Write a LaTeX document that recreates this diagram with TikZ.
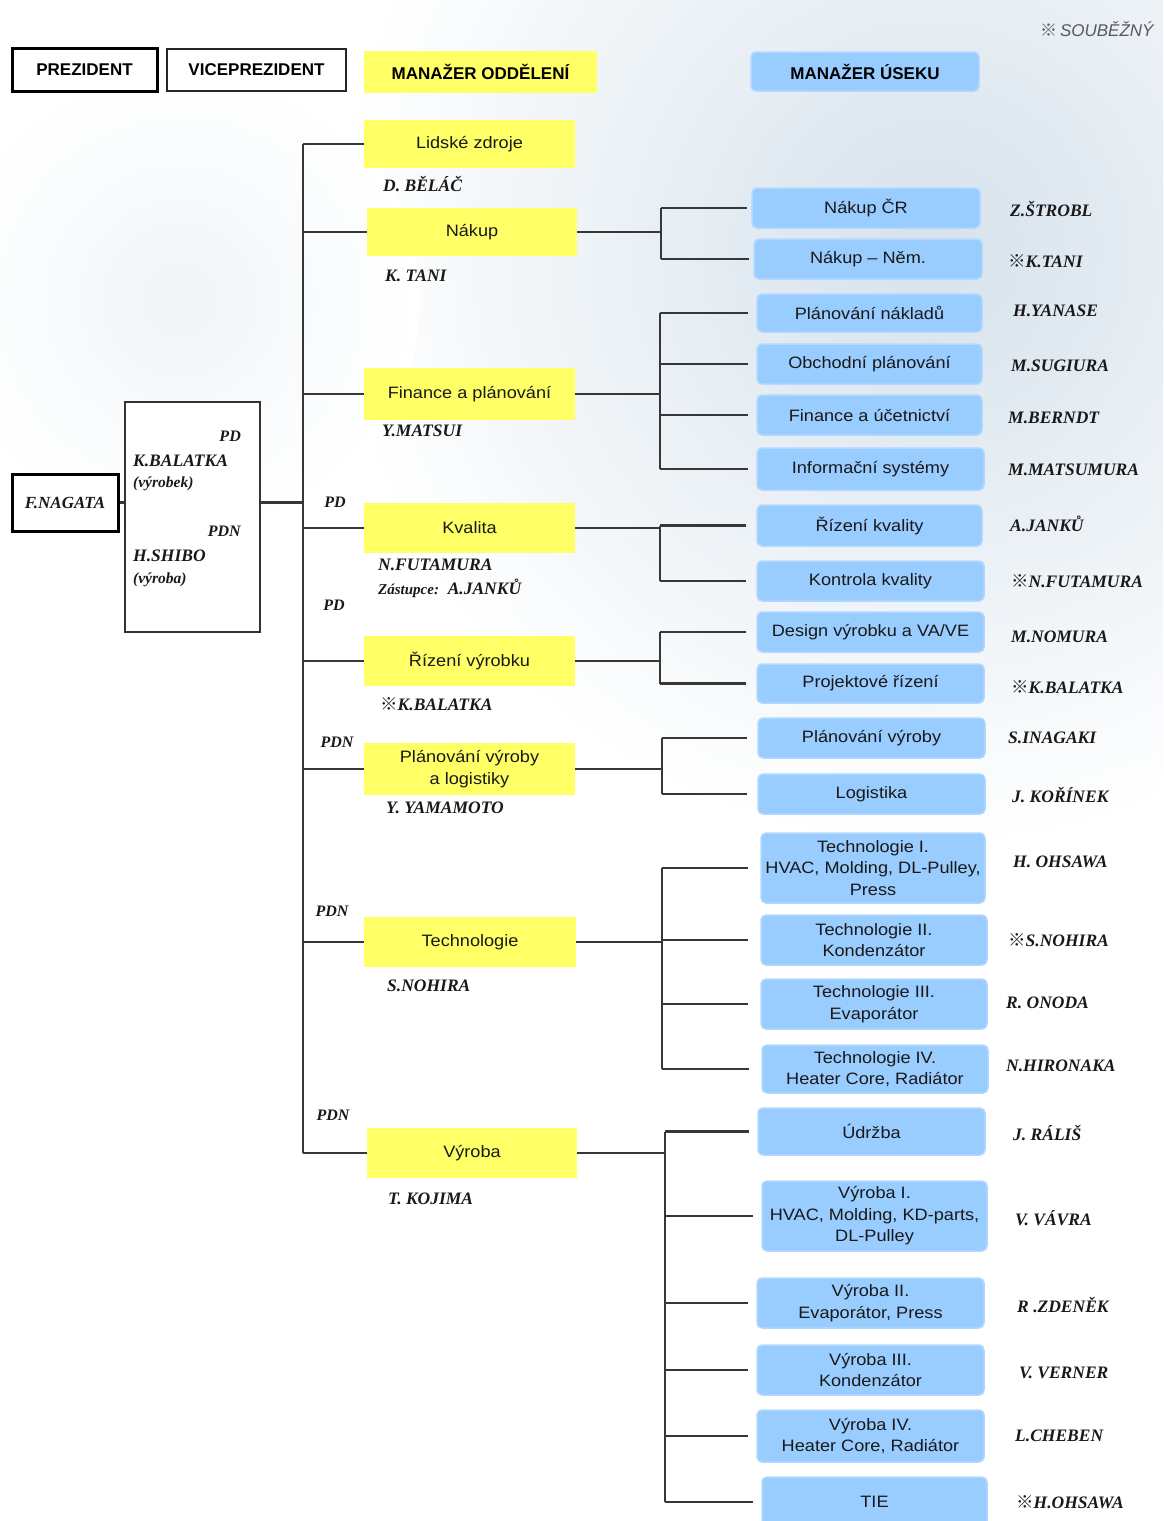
\documentclass[tikz,border=0pt]{standalone}
\usepackage{fontspec}
\setmainfont{Liberation Sans}
\newfontfamily\boxfont[FakeStretch=1.1]{Liberation Sans}
\newfontfamily\nmfont{Liberation Serif}
\newfontfamily\cjkfont{Noto Sans CJK JP}
\newcommand\refm{{\cjkfont ※}}
\definecolor{ylw}{RGB}{255,255,102}
\definecolor{blu}{RGB}{153,204,255}
\definecolor{bluedge}{RGB}{178,216,255}
\definecolor{lin}{RGB}{55,55,55}
\definecolor{txt}{RGB}{25,25,25}
\definecolor{bgc}{RGB}{214,226,236}
\begin{document}
\begin{tikzpicture}[x=1pt,y=-1pt,
  wh/.style 2 args={minimum width=#1pt, minimum height=#2pt},
  ybox/.style={fill=ylw, draw=none, inner sep=0pt, align=center, text=txt,
    font=\boxfont\fontsize{16.5}{21.5}\selectfont},
  bbox/.style={fill=blu, draw=bluedge, line width=1.5pt, rounded corners=5pt, inner sep=0pt,
    align=center, text=txt, font=\boxfont\fontsize{16.5}{21.5}\selectfont},
  conn/.style={draw=lin, line width=2.6pt},
  nm/.style={anchor=west, inner sep=0pt, text=txt,
    font=\nmfont\bfseries\itshape\fontsize{17.5}{20}\selectfont},
  small/.style={font=\nmfont\bfseries\itshape\fontsize{15.5}{17}\selectfont},
  pd/.style={inner sep=0pt, text=txt, font=\nmfont\bfseries\itshape\fontsize{16}{18}\selectfont},
  hdr/.style={inner sep=0pt, text=black, font=\bfseries\fontsize{17}{20}\selectfont}
]
\useasboundingbox (0,0) rectangle (1163,1521);
\clip (0,0) rectangle (1163,1521);
\fill[white] (0,0) rectangle (1163,1521);
\shade[inner color=bgc, outer color=white] (930,250) circle[radius=600pt];
\shade[inner color=bgc!35!white, outer color=white] (180,300) circle[radius=240pt];

% header
\node[draw=black, line width=3pt, fill=white, wh={145}{43}, hdr] (prez) at (84.5,69.5) {PREZIDENT};
\node[draw=black!85, line width=2pt, fill=white, wh={179}{42}, hdr] (vp) at (256.5,70) {VICEPREZIDENT};
\node[ybox, wh={233}{42}, hdr] (mgr) at (480.5,72) {MANAŽER ODDĚLENÍ};
\node[bbox, wh={228}{39}, hdr] (useku) at (865,71.5) {MANAŽER ÚSEKU};
\node[anchor=west, inner sep=0pt, text=black!65, font=\itshape\fontsize{17}{20}\selectfont] (soub) at (1040,29) {\refm\,SOUBĚŽNÝ};

% left
\node[draw=black, line width=3pt, fill=white, wh={106}{57}, pd, font=\nmfont\bfseries\itshape\fontsize{17}{20}\selectfont] (nagata) at (65,502.5) {F.NAGATA};
\node[draw=black!80, line width=2pt, fill=white, wh={135}{230}] (big) at (192.5,517) {};
\node[pd, anchor=east] (pdA) at (241,436) {PD};
\node[nm] (kbal) at (133,461) {K.BALATKA};
\node[nm, small] (kbalr) at (133,484) {(výrobek)};
\node[pd, anchor=east] (pdB) at (241,531) {PDN};
\node[nm] (shibo) at (133,556) {H.SHIBO};
\node[nm, small] (shibor) at (133,580) {(výroba)};

% trunk
\coordinate (trunk) at (303,147);

% department boxes
\node[ybox, wh={211}{48}] (hr) at (469.5,144) {Lidské zdroje};
\node[ybox, wh={210}{48}] (nakup) at (472,232) {Nákup};
\node[ybox, wh={211}{52}] (fin) at (469.5,394) {Finance a plánování};
\node[ybox, wh={211}{50}] (kval) at (469.5,528) {Kvalita};
\node[ybox, wh={211}{50}] (rizv) at (469.5,661) {Řízení výrobku};
\node[ybox, wh={211}{52}] (planv) at (469.5,769) {Plánování výroby\\a logistiky};
\node[ybox, wh={212}{50}] (tech) at (470,942) {Technologie};
\node[ybox, wh={210}{50}] (vyr) at (472,1153) {Výroba};

% department names
\node[nm] (nhr) at (383,184) {D. BĚLÁČ};
\node[nm] (nnak) at (385,276) {K. TANI};
\node[nm] (nfin) at (382,431) {Y.MATSUI};
\node[nm] (nkv) at (378,565) {N.FUTAMURA};
\node[nm] (nkv2) at (378,588) {{\fontsize{15}{17}\selectfont Zástupce:}\ \ A.JANKŮ};
\node[nm] (nriz) at (380,704) {\refm K.BALATKA};
\node[nm] (npl) at (386,808) {Y. YAMAMOTO};
\node[nm] (ntech) at (387,986) {S.NOHIRA};
\node[nm] (nvyr) at (388,1199) {T. KOJIMA};

\node[pd] (pd1) at (335,502) {PD};
\node[pd] (pd2) at (334,605) {PD};
\node[pd] (pd3) at (337,742) {PDN};
\node[pd] (pd4) at (332,911) {PDN};
\node[pd] (pd5) at (333,1115) {PDN};

% section boxes
\node[bbox, wh={228}{40}] (ncr) at (866,208) {Nákup ČR};
\node[bbox, wh={228}{40}] (nnem) at (868,259) {Nákup – Něm.};
\node[bbox, wh={225}{38}] (pn) at (869.5,313) {Plánování nákladů};
\node[bbox, wh={225}{40}] (op) at (869.5,364) {Obchodní plánování};
\node[bbox, wh={225}{40}] (fu) at (869.5,415) {Finance a účetnictví};
\node[bbox, wh={227}{42}] (is) at (870.5,469) {Informační systémy};
\node[bbox, wh={225}{41}] (rk) at (869.5,525.5) {Řízení kvality};
\node[bbox, wh={227}{40}] (kk) at (870.5,581) {Kontrola kvality};
\node[bbox, wh={227}{40}] (dv) at (870.5,632) {Design výrobku a VA/VE};
\node[bbox, wh={227}{39}] (pr) at (870.5,683.5) {Projektové řízení};
\node[bbox, wh={227}{40}] (pv) at (871.5,738) {Plánování výroby};
\node[bbox, wh={227}{40}] (lg) at (871.5,794) {Logistika};
\node[bbox, wh={224}{70}] (t1) at (873,868) {Technologie I.\\HVAC, Molding, DL-Pulley,\\Press};
\node[bbox, wh={226}{50}] (t2) at (874,940) {Technologie II.\\Kondenzátor};
\node[bbox, wh={226}{50}] (t3) at (874,1004) {Technologie III.\\Evaporátor};
\node[bbox, wh={226}{48}] (t4) at (875,1069) {Technologie IV.\\Heater Core, Radiátor};
\node[bbox, wh={227}{47}] (ud) at (871.5,1131.5) {Údržba};
\node[bbox, wh={225}{70}] (v1) at (874.5,1216) {Výroba I.\\HVAC, Molding, KD-parts,\\DL-Pulley};
\node[bbox, wh={227}{50}] (v2) at (870.5,1303) {Výroba II.\\Evaporátor, Press};
\node[bbox, wh={227}{50}] (v3) at (870.5,1370) {Výroba III.\\Kondenzátor};
\node[bbox, wh={227}{52}] (v4) at (870.5,1436) {Výroba IV.\\Heater Core, Radiátor};
\node[bbox, wh={225}{50}] (tie) at (874.5,1502) {TIE};

% section names
\node[nm] (m1) at (1010,209) {Z.ŠTROBL};
\node[nm] (m2) at (1008,261) {\refm K.TANI};
\node[nm] (m3) at (1013,311) {H.YANASE};
\node[nm] (m4) at (1011,366) {M.SUGIURA};
\node[nm] (m5) at (1008,418) {M.BERNDT};
\node[nm] (m6) at (1008,470) {M.MATSUMURA};
\node[nm] (m7) at (1010,524) {A.JANKŮ};
\node[nm] (m8) at (1011,581) {\refm N.FUTAMURA};
\node[nm] (m9) at (1011,637) {M.NOMURA};
\node[nm] (m10) at (1011,687) {\refm K.BALATKA};
\node[nm] (m11) at (1008,738) {S.INAGAKI};
\node[nm] (m12) at (1012,795) {J. KOŘÍNEK};
\node[nm] (m13) at (1013,862) {H. OHSAWA};
\node[nm] (m14) at (1008,940) {\refm S.NOHIRA};
\node[nm] (m15) at (1006,1003) {R. ONODA};
\node[nm] (m16) at (1006,1066) {N.HIRONAKA};
\node[nm] (m17) at (1013,1133) {J. RÁLIŠ};
\node[nm] (m18) at (1015,1218) {V. VÁVRA};
\node[nm] (m19) at (1017,1305) {R .ZDENĚK};
\node[nm] (m20) at (1019,1373) {V. VERNER};
\node[nm] (m21) at (1015,1436) {L.CHEBEN};
\node[nm] (m22) at (1016,1502) {\refm H.OHSAWA};

% connectors: left
\draw[conn] (nagata.east) -- (nagata.east -| big.west);
\draw[conn] (nagata.east -| big.east) -- (nagata.east -| trunk);
\draw[conn] (trunk |- hr) -- (trunk |- vyr);
\foreach \n in {hr,nakup,fin,kval,rizv,planv,tech,vyr}
  \draw[conn] (trunk |- \n) -- (\n.west);

% buses
\coordinate (busN) at (661,0);
\coordinate (busF) at (660,0);
\coordinate (busK) at (660,0);
\coordinate (busR) at (660,0);
\coordinate (busP) at (662,0);
\coordinate (busT) at (662,0);
\coordinate (busV) at (665,0);

\draw[conn] (nakup.east) -- (nakup.east -| busN);
\draw[conn] (busN |- ncr) -- (busN |- nnem);
\foreach \k in {ncr,nnem} \draw[conn, shorten >=4pt] (busN |- \k) -- (\k.west);

\draw[conn] (fin.east) -- (fin.east -| busF);
\draw[conn] (busF |- pn) -- (busF |- is);
\foreach \k in {pn,op,fu,is} \draw[conn, shorten >=8pt] (busF |- \k) -- (\k.west);

\draw[conn] (kval.east) -- (kval.east -| busK);
\draw[conn] (busK |- rk) -- (busK |- kk);
\foreach \k in {rk,kk} \draw[conn, shorten >=10pt] (busK |- \k) -- (\k.west);

\draw[conn] (rizv.east) -- (rizv.east -| busR);
\draw[conn] (busR |- dv) -- (busR |- pr);
\foreach \k in {dv,pr} \draw[conn, shorten >=10pt] (busR |- \k) -- (\k.west);

\draw[conn] (planv.east) -- (planv.east -| busP);
\draw[conn] (busP |- pv) -- (busP |- lg);
\foreach \k in {pv,lg} \draw[conn, shorten >=10pt] (busP |- \k) -- (\k.west);

\draw[conn] (tech.east) -- (tech.east -| busT);
\draw[conn] (busT |- t1) -- (busT |- t4);
\foreach \k in {t1,t2,t3,t4} \draw[conn, shorten >=12pt] (busT |- \k) -- (\k.west);

\draw[conn] (vyr.east) -- (vyr.east -| busV);
\draw[conn] (busV |- ud) -- (busV |- tie);
\foreach \k in {ud,v1,v2,v3,v4,tie} \draw[conn, shorten >=8pt] (busV |- \k) -- (\k.west);
\end{tikzpicture}
\end{document}
